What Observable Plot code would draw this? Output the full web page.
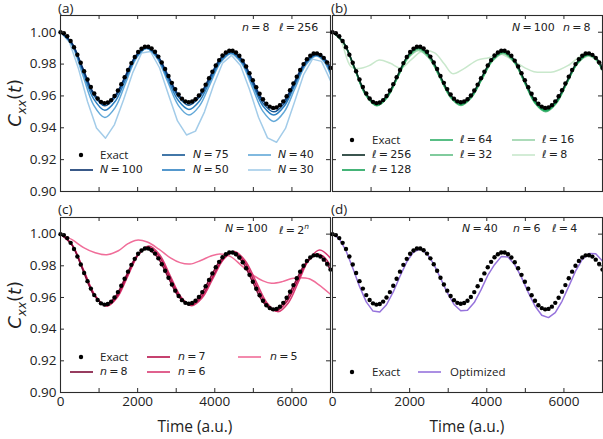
<!DOCTYPE html>
<html>
<head>
<meta charset="utf-8">
<script src="https://cdn.jsdelivr.net/npm/d3@7"></script>
<script src="https://cdn.jsdelivr.net/npm/@observablehq/plot@0.6"></script>
<style>
  body { margin: 0; background: #fff; }
  #fig { position: relative; width: 603px; height: 439px; font-family: "Open Sans", sans-serif; color: #222; overflow: hidden; }
  #fig svg.panel { position: absolute; left: 0; top: 0; }
  .txt { position: absolute; white-space: nowrap; line-height: 1; }
  .math { font-family: "DejaVu Sans", sans-serif; }
  .math i { font-style: italic; }
  .sw { position: absolute; }
</style>
</head>
<body>
<div id="fig"></div>
<script>
// ---------- data ----------
// exact correlation function, 80 intervals from 0 to 7000 a.u.
const exactStep = 87.5;
const exactValues = [
  1.0000, 0.9994, 0.9975, 0.9945, 0.9906, 0.9859, 0.9808, 0.9755, 0.9703, 0.9656,
  0.9615, 0.9584, 0.9563, 0.9555, 0.9559, 0.9574, 0.9600, 0.9634, 0.9674, 0.9718,
  0.9763, 0.9806, 0.9844, 0.9876, 0.9897, 0.9909, 0.9909, 0.9898, 0.9877, 0.9847,
  0.9810, 0.9769, 0.9725, 0.9682, 0.9643, 0.9609, 0.9583, 0.9566, 0.9560, 0.9565,
  0.9579, 0.9603, 0.9634, 0.9671, 0.9711, 0.9752, 0.9791, 0.9825, 0.9854, 0.9873,
  0.9884, 0.9884, 0.9873, 0.9852, 0.9822, 0.9785, 0.9743, 0.9699, 0.9655, 0.9614,
  0.9579, 0.9551, 0.9533, 0.9525, 0.9528, 0.9542, 0.9566, 0.9598, 0.9636, 0.9678,
  0.9721, 0.9763, 0.9800, 0.9831, 0.9853, 0.9866, 0.9867, 0.9858, 0.9839, 0.9811,
  0.9776
];

// common read-out times for the smooth simulated curves
const keyTimes = [0, 290, 575, 860, 1150, 1420, 1690, 1960, 2230, 2505, 2780, 3055, 3330,
  3600, 3875, 4150, 4420, 4700, 4975, 5250, 5530, 5800, 6075, 6350, 6620, 6810, 7000];

// N = 100, n = 8, l = 256 (shared by panels a, b, c)
const refRun = [1.0000, 0.9934, 0.9776, 0.9618, 0.9552, 0.9604, 0.9730, 0.9856, 0.9908, 0.9857,
  0.9733, 0.9608, 0.9557, 0.9605, 0.9721, 0.9836, 0.9884, 0.9830, 0.9701, 0.9572, 0.9518,
  0.9569, 0.9692, 0.9815, 0.9866, 0.9845, 0.9772];

// panel (a): number of time steps N
const runN75 = [1.0000, 0.9932, 0.9769, 0.9606, 0.9538, 0.9592, 0.9722, 0.9851, 0.9905, 0.9852,
  0.9724, 0.9595, 0.9542, 0.9591, 0.9710, 0.9829, 0.9878, 0.9823, 0.9689, 0.9555, 0.9500,
  0.9553, 0.9680, 0.9807, 0.9860, 0.9838, 0.9765];
const runN50 = [1.0000, 0.9928, 0.9755, 0.9582, 0.9510, 0.9567, 0.9705, 0.9843, 0.9900, 0.9844,
  0.9708, 0.9571, 0.9515, 0.9567, 0.9693, 0.9818, 0.9870, 0.9813, 0.9675, 0.9537, 0.9480,
  0.9535, 0.9668, 0.9800, 0.9855, 0.9830, 0.9750];
const runN40 = [1.0000, 0.9922, 0.9733, 0.9543, 0.9465, 0.9528, 0.9682, 0.9835, 0.9898, 0.9837,
  0.9689, 0.9541, 0.9480, 0.9536, 0.9673, 0.9809, 0.9865, 0.9803, 0.9653, 0.9503, 0.9440,
  0.9500, 0.9645, 0.9790, 0.9850, 0.9822, 0.9735];
const timesN30 = [0, 233, 467, 700, 933, 1167, 1400, 1633, 1867, 2100, 2333, 2567, 2800, 3033,
  3267, 3500, 3733, 3967, 4200, 4433, 4667, 4900, 5133, 5367, 5600, 5833, 6067, 6300, 6533, 6767, 7000];
const runN30 = [1.0000, 0.9937, 0.9770, 0.9565, 0.9399, 0.9335, 0.9420, 0.9575, 0.9743, 0.9869,
  0.9879, 0.9777, 0.9607, 0.9443, 0.9355, 0.9379, 0.9500, 0.9667, 0.9805, 0.9855, 0.9791,
  0.9641, 0.9466, 0.9337, 0.9309, 0.9396, 0.9562, 0.9732, 0.9831, 0.9817, 0.9696];

// panel (b): bond dimension l
const runL128 = [1.0000, 0.9933, 0.9773, 0.9612, 0.9545, 0.9598, 0.9725, 0.9852, 0.9905, 0.9853,
  0.9728, 0.9602, 0.9550, 0.9598, 0.9715, 0.9832, 0.9880, 0.9826, 0.9695, 0.9564, 0.9510,
  0.9562, 0.9686, 0.9810, 0.9862, 0.9842, 0.9770];
const runL64 = [1.0000, 0.9933, 0.9770, 0.9607, 0.9540, 0.9593, 0.9720, 0.9847, 0.9900, 0.9848,
  0.9723, 0.9597, 0.9545, 0.9593, 0.9710, 0.9827, 0.9875, 0.9821, 0.9690, 0.9559, 0.9505,
  0.9557, 0.9682, 0.9806, 0.9858, 0.9838, 0.9765];
const runL32 = [1.0000, 0.9932, 0.9769, 0.9606, 0.9538, 0.9590, 0.9717, 0.9843, 0.9895, 0.9843,
  0.9718, 0.9592, 0.9540, 0.9588, 0.9705, 0.9822, 0.9870, 0.9816, 0.9685, 0.9554, 0.9500,
  0.9552, 0.9678, 0.9803, 0.9855, 0.9835, 0.9760];
const runL16 = [1.0000, 0.9934, 0.9775, 0.9616, 0.9550, 0.9599, 0.9718, 0.9836, 0.9885, 0.9836,
  0.9718, 0.9599, 0.9550, 0.9596, 0.9708, 0.9819, 0.9865, 0.9814, 0.9693, 0.9571, 0.9520,
  0.9568, 0.9685, 0.9802, 0.9850, 0.9832, 0.9762];
const timesL8 = [0, 200, 474, 690, 950, 1208, 1500, 1770, 2050, 2350, 2650, 2900, 3110, 3400,
  3756, 4050, 4360, 4700, 5000, 5223, 5500, 5740, 6100, 6518, 6750, 7000];
const runL8 = [1.0000, 0.9955, 0.9785, 0.9772, 0.9790, 0.9825, 0.9805, 0.9775, 0.9830, 0.9885,
  0.9870, 0.9800, 0.9740, 0.9770, 0.9825, 0.9840, 0.9862, 0.9820, 0.9775, 0.9752, 0.9748,
  0.9752, 0.9790, 0.9860, 0.9840, 0.9775];

// panel (c): number of qubits n, l = 2^n
const timesN7 = [0, 295, 590, 885, 1180, 1450, 1720, 1990, 2260, 2540, 2815, 3095, 3370, 3645,
  3920, 4195, 4470, 4750, 5025, 5305, 5580, 5850, 6125, 6395, 6670, 6840, 7000];
const runQ7 = [1.0000, 0.9934, 0.9774, 0.9614, 0.9548, 0.9602, 0.9733, 0.9864, 0.9918, 0.9865,
  0.9736, 0.9606, 0.9553, 0.9602, 0.9719, 0.9836, 0.9885, 0.9831, 0.9700, 0.9569, 0.9515,
  0.9568, 0.9695, 0.9822, 0.9875, 0.9854, 0.9801];
const timesN6 = [0, 300, 600, 900, 1200, 1475, 1745, 2020, 2290, 2570, 2845, 3125, 3400, 3675,
  3950, 4225, 4500, 4785, 5070, 5355, 5640, 5910, 6180, 6450, 6720, 7000];
const runQ6 = [1.0000, 0.9933, 0.9773, 0.9612, 0.9545, 0.9601, 0.9735, 0.9869, 0.9925, 0.9870,
  0.9737, 0.9603, 0.9548, 0.9598, 0.9719, 0.9840, 0.9890, 0.9834, 0.9700, 0.9566, 0.9510,
  0.9567, 0.9705, 0.9843, 0.9900, 0.9848];
const timesN5 = [0, 300, 600, 900, 1200, 1500, 1750, 1977, 2250, 2550, 2850, 3100, 3356, 3650,
  3900, 4133, 4400, 4700, 5000, 5250, 5469, 5750, 6000, 6200, 6450, 6700, 7000];
const runQ5 = [1.0000, 0.9965, 0.9915, 0.9882, 0.9870, 0.9895, 0.9940, 0.9962, 0.9950, 0.9905,
  0.9850, 0.9820, 0.9811, 0.9835, 0.9862, 0.9875, 0.9860, 0.9800, 0.9740, 0.9705, 0.9690,
  0.9700, 0.9720, 0.9725, 0.9718, 0.9680, 0.9620];

// panel (d): optimized circuit, N = 40 steps
const optStep = 175;
const runOpt = [1.0000, 0.9972, 0.9895, 0.9786, 0.9670, 0.9572, 0.9514, 0.9508, 0.9554, 0.9635,
  0.9734, 0.9825, 0.9887, 0.9905, 0.9877, 0.9811, 0.9722, 0.9630, 0.9556, 0.9516, 0.9520,
  0.9568, 0.9648, 0.9739, 0.9807, 0.9858, 0.9855, 0.9808, 0.9727, 0.9632, 0.9546, 0.9488,
  0.9473, 0.9504, 0.9576, 0.9670, 0.9766, 0.9841, 0.9878, 0.9876, 0.9830];

// axes
const xDomain = [0, 7000];
const yDomain = [0.9, 1.0105];
const xTickValues = [0, 1000, 2000, 3000, 4000, 5000, 6000, 7000];
const xLabelValues = [0, 2000, 4000, 6000];
const yTickValues = [0.90, 0.92, 0.94, 0.96, 0.98, 1.00];

// ---------- helpers ----------
const rowsOf = (times, values) => values.map((v, i) => ({t: times[i], v}));
const exactRows = exactValues.map((v, i) => ({t: i * exactStep, v}));
const optRows = runOpt.map((v, i) => ({t: i * optStep, v}));

const W = 603, H = 439;
const cols = [[60, 330], [332, 602]];
const rows = [[15, 191], [217, 392]];
const spine = "#2b2b2b";

function panel({col, row, series, showY, showX}) {
  const [x0, x1] = cols[col], [y0, y1] = rows[row];
  const fw = x1 - x0, fh = y1 - y0;
  const marks = [];
  for (const s of series) {
    marks.push(Plot.line(s.data, {x: "t", y: "v", stroke: s.color, strokeWidth: 1.5,
      curve: s.curve || "catmull-rom", clip: true}));
  }
  marks.push(Plot.dot(exactRows, {x: "t", y: "v", r: 2.2, fill: "#000", stroke: "none"}));
  // inward ticks on all four sides
  marks.push(Plot.tickX(xTickValues, {x: d => d, insetTop: fh - 4, stroke: spine}));
  marks.push(Plot.tickX(xTickValues, {x: d => d, insetBottom: fh - 4, stroke: spine}));
  marks.push(Plot.tickY(yTickValues, {y: d => d, insetRight: fw - 4, stroke: spine}));
  marks.push(Plot.tickY(yTickValues, {y: d => d, insetLeft: fw - 4, stroke: spine}));
  if (showY) marks.push(Plot.axisY(yTickValues, {tickSize: 0, tickPadding: 4,
    tickFormat: d3.format(".2f"), label: null, fontSize: 13.5}));
  if (showX) marks.push(Plot.axisX(xLabelValues, {tickSize: 0, tickPadding: 4,
    tickFormat: d => String(d), label: null, fontSize: 13.5}));
  marks.push(Plot.frame({stroke: spine, strokeWidth: 1.1}));
  const svg = Plot.plot({
    width: W, height: H,
    marginLeft: x0, marginRight: W - x1, marginTop: y0, marginBottom: H - y1,
    x: {domain: xDomain, axis: null},
    y: {domain: yDomain, axis: null},
    style: {background: "transparent", fontFamily: "Open Sans", fontSize: "13.5px", color: "#222"},
    marks
  });
  svg.classList.add("panel");
  return svg;
}

// ---------- series ----------
const blue = {N100: "#08306b", N75: "#135593", N50: "#2b7fc1", N40: "#62a8d8", N30: "#a3cce9"};
const green = {L256: "#0b2b24", L128: "#17a257", L64: "#2fae67", L32: "#62be85", L16: "#98d3a8", L8: "#c9e8cc"};
const red = {Q8: "#7d0c37", Q7: "#b8124c", Q6: "#d93a72", Q5: "#f06d99"};
const purple = "#9673dc";

const fig = document.getElementById("fig");

fig.appendChild(panel({col: 0, row: 0, showY: true, showX: false, series: [
  {data: rowsOf(timesN30, runN30), color: blue.N30, curve: "linear"},
  {data: rowsOf(keyTimes, runN40), color: blue.N40},
  {data: rowsOf(keyTimes, runN50), color: blue.N50},
  {data: rowsOf(keyTimes, runN75), color: blue.N75},
  {data: rowsOf(keyTimes, refRun), color: blue.N100}
]}));

fig.appendChild(panel({col: 1, row: 0, showY: false, showX: false, series: [
  {data: rowsOf(timesL8, runL8), color: green.L8},
  {data: rowsOf(keyTimes, runL16), color: green.L16},
  {data: rowsOf(keyTimes, runL32), color: green.L32},
  {data: rowsOf(keyTimes, runL64), color: green.L64},
  {data: rowsOf(keyTimes, runL128), color: green.L128},
  {data: rowsOf(keyTimes, refRun), color: green.L256}
]}));

fig.appendChild(panel({col: 0, row: 1, showY: true, showX: true, series: [
  {data: rowsOf(timesN5, runQ5), color: red.Q5},
  {data: rowsOf(timesN6, runQ6), color: red.Q6},
  {data: rowsOf(timesN7, runQ7), color: red.Q7},
  {data: rowsOf(keyTimes, refRun), color: red.Q8}
]}));

fig.appendChild(panel({col: 1, row: 1, showY: false, showX: true, series: [
  {data: optRows, color: purple, curve: "linear"}
]}));

// ---------- text, legends ----------
function addText(html, x, y, cls = "", size = 11) {
  const el = document.createElement("div");
  el.className = "txt " + cls;
  el.style.left = x + "px";
  el.style.top = (y - size * 0.55) + "px";
  el.style.fontSize = size + "px";
  el.innerHTML = html;
  fig.appendChild(el);
  return el;
}
function lineSwatch(x, y, color, w = 23) {
  fig.insertAdjacentHTML("beforeend",
    `<svg class="sw" width="${w}" height="6" style="left:${x}px;top:${y - 3}px"><line x1="0" y1="3" x2="${w}" y2="3" stroke="${color}" stroke-width="1.6"/></svg>`);
}
function dotSwatch(cx, y) {
  fig.insertAdjacentHTML("beforeend",
    `<svg class="sw" width="6" height="6" style="left:${cx - 3}px;top:${y - 3}px"><circle cx="3" cy="3" r="2.2" fill="#000"/></svg>`);
}
const m = (sym, val) => `<i>${sym}</i>&#8201;=&#8201;${val}`;

// panel tags
addText("(a)", 58, 9, "", 13.5);
addText("(b)", 331, 9, "", 13.5);
addText("(c)", 58, 210, "", 13.5);
addText("(d)", 331, 210, "", 13.5);

// parameter annotations
addText(m("n", "8"), 242, 28.5, "math", 11);
addText(m("ℓ", "256"), 279, 28.5, "math", 11);
addText(m("N", "100"), 512, 28.5, "math", 11);
addText(m("n", "8"), 563, 28.5, "math", 11);
addText(m("N", "100"), 225, 229.5, "math", 11);
addText(`<i>ℓ</i>&#8201;=&#8201;2<sup style="font-size:7.5px;font-style:italic">n</sup>`, 279, 229.5, "math", 11);
addText(m("N", "40"), 462, 229.5, "math", 11);
addText(m("n", "6"), 513, 229.5, "math", 11);
addText(m("ℓ", "4"), 552, 229.5, "math", 11);

// legend (a)
dotSwatch(81, 155); addText("Exact", 100, 155, "", 11.5);
lineSwatch(70, 170, blue.N100); addText(m("N", "100"), 100, 170, "math", 11);
lineSwatch(162, 155, blue.N75); addText(m("N", "75"), 193, 155, "math", 11);
lineSwatch(162, 170, blue.N50); addText(m("N", "50"), 193, 170, "math", 11);
lineSwatch(248, 155, blue.N40); addText(m("N", "40"), 278, 155, "math", 11);
lineSwatch(248, 170, blue.N30); addText(m("N", "30"), 278, 170, "math", 11);

// legend (b)
dotSwatch(352, 140); addText("Exact", 372, 140, "", 11.5);
lineSwatch(342, 155, green.L256); addText(m("ℓ", "256"), 372, 155, "math", 11);
lineSwatch(342, 170, green.L128); addText(m("ℓ", "128"), 372, 170, "math", 11);
lineSwatch(430, 140, green.L64); addText(m("ℓ", "64"), 460, 140, "math", 11);
lineSwatch(430, 155, green.L32); addText(m("ℓ", "32"), 460, 155, "math", 11);
lineSwatch(512, 140, green.L16); addText(m("ℓ", "16"), 542, 140, "math", 11);
lineSwatch(512, 155, green.L8); addText(m("ℓ", "8"), 542, 155, "math", 11);

// legend (c)
dotSwatch(81, 357); addText("Exact", 100, 357, "", 11.5);
lineSwatch(70, 372, red.Q8); addText(m("n", "8"), 100, 372, "math", 11);
lineSwatch(147, 357, red.Q7); addText(m("n", "7"), 178, 357, "math", 11);
lineSwatch(147, 372, red.Q6); addText(m("n", "6"), 178, 372, "math", 11);
lineSwatch(238, 357, red.Q5); addText(m("n", "5"), 270, 357, "math", 11);

// legend (d)
dotSwatch(352, 372); addText("Exact", 372, 372, "", 11.5);
lineSwatch(418, 372, purple); addText("Optimized", 450, 372, "", 11.5);

// axis titles
for (const cx of [195, 467]) {
  const el = addText("Time (a.u.)", 0, 428, "", 15.5);
  el.style.left = (cx - el.offsetWidth / 2) + "px";
}
for (const cy of [103, 305]) {
  const el = addText(`<i>C</i><sub style="font-size:12px;font-style:italic">xx</sub>(<i>t</i>)`, 0, 0, "math", 18);
  const w = el.offsetWidth, h = el.offsetHeight;
  el.style.left = (17 - w / 2) + "px";
  el.style.top = (cy - h / 2) + "px";
  el.style.transform = "rotate(-90deg)";
}
</script>
</body>
</html>
